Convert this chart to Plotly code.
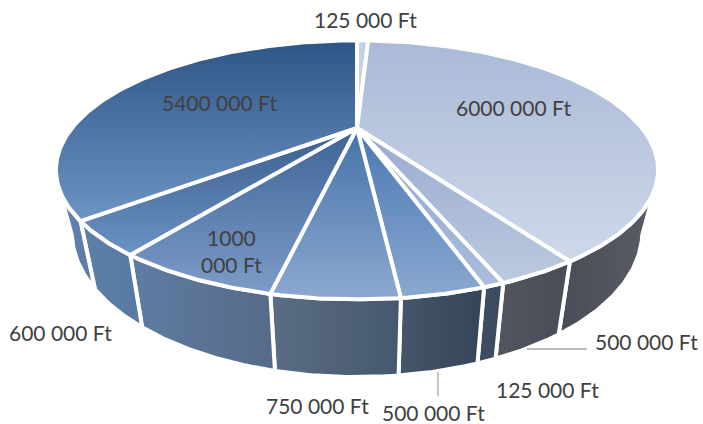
import math
import plotly.graph_objects as go

# ---- data ----
labels = ["125 000 Ft", "6000 000 Ft", "500 000 Ft", "125 000 Ft", "500 000 Ft",
          "750 000 Ft", "1000<br>000 Ft", "600 000 Ft", "5400 000 Ft"]
values = [125000, 6000000, 500000, 125000, 500000, 750000, 1000000, 600000, 5400000]

# ---- styles ----
top_colors = [("#c3cfe3", "#ced8e9"), ("#a9b9d7", "#ced8e9"), ("#98aad0", "#bccadf"),
              ("#90a8d0", "#a9bcdb"), ("#4a78b3", "#8aa8d0"), ("#4473a8", "#8da8d0"),
              ("#3d6496", "#7d9cc8"), ("#3a5d8c", "#6b93c3"), ("#2f5585", "#6d95c4")]
side_colors = [None, ("#494c56", "#5a5c65"), ("#53565f", "#474c56"), ("#3f4e62", "#3a495c"),
               ("#47566a", "#344559"), ("#5b6c85", "#46586f"), ("#5f7ca3", "#566a87"),
               ("#5d80ab", "#567aa3"), ("#5e82ae", "#5a7ba6")]
label_pos = [(365, 19), (513, 107), (646, 341), (547, 389), (433, 412), (317, 405),
             (231, 251), (60, 332), (219, 102)]

# perspective geometry of the two pie faces (pixels of the 703x424 page)
CX, P = 357.0, 0.323
TOP = dict(cy=128.0, k=285.0, m=116.0)
BOT = dict(cy=185.0, k=270.0, m=130.0)
SIL_R, SIL_L = 117.0, 243.0   # silhouette angles of the top face
SIL_R_B, SIL_L_B = 110.0, 250.0   # matching angles of the bottom face


def project(deg, face):
    a = math.radians(deg)
    u, v = math.sin(a), -math.cos(a)
    w = 1 - P * v
    return CX + face["k"] * u / w, face["cy"] + face["m"] * v / w


def arc(a0, a1, face):
    n = max(2, int(abs(a1 - a0) * 2) + 1)
    return [project(a0 + (a1 - a0) * i / (n - 1), face) for i in range(n)]


total = sum(values)
edges = [0.0]
for val in values:
    edges.append(edges[-1] + 360.0 * val / total)

fig = go.Figure()
WHITE = dict(color="#ffffff", width=4)

# side walls first
for i, val in enumerate(values):
    a0, a1 = edges[i], edges[i + 1]
    if side_colors[i] is None:
        continue
    if i == 1:
        a0t, a0b = SIL_R, SIL_R_B
        a1t, a1b = a1, a1
    elif i == len(values) - 1:
        a0t, a0b = a0, a0
        a1t, a1b = SIL_L, SIL_L_B
    else:
        a0t, a0b, a1t, a1b = a0, a0, a1, a1
    pts = arc(a0t, a1t, TOP) + arc(a1b, a0b, BOT)
    pts.append(pts[0])
    fig.add_trace(go.Scatter(
        x=[p[0] for p in pts], y=[p[1] for p in pts], mode="lines",
        fill="toself", line=WHITE, hoverinfo="skip",
        fillgradient=dict(type="horizontal",
                          colorscale=[[0, side_colors[i][0]], [1, side_colors[i][1]]]),
    ))

# top faces (the y axis runs downwards, so the gradient stops are bottom first)
for i, val in enumerate(values):
    a0, a1 = edges[i], edges[i + 1]
    pts = [(CX, TOP["cy"])] + arc(a0, a1, TOP) + [(CX, TOP["cy"])]
    fig.add_trace(go.Scatter(
        x=[p[0] for p in pts], y=[p[1] for p in pts], mode="lines",
        fill="toself", line=WHITE, hoverinfo="skip",
        fillgradient=dict(type="vertical",
                          colorscale=[[0, top_colors[i][1]], [1, top_colors[i][0]]]),
    ))

annotations = [
    dict(x=p[0], y=p[1], text=t, showarrow=False, xref="x", yref="y",
         font=dict(family="Lato", size=21, color="#404040"), align="center")
    for t, p in zip(labels, label_pos)
]
leader = dict(type="line", xref="x", yref="y", line=dict(color="#a6a6a6", width=1.3))
shapes = [dict(leader, x0=527, y0=349, x1=587, y1=349),
          dict(leader, x0=438, y0=372, x1=438, y1=396)]

fig.update_layout(
    width=703, height=424, margin=dict(l=0, r=0, t=0, b=0),
    paper_bgcolor="#ffffff", plot_bgcolor="#ffffff", showlegend=False,
    xaxis=dict(range=[0, 703], visible=False, fixedrange=True),
    yaxis=dict(range=[424, 0], visible=False, fixedrange=True),
    annotations=annotations, shapes=shapes,
)
fig.write_html("out.html", config={"displayModeBar": False},
               post_script="document.body.style.margin='0';document.documentElement.style.overflow='hidden';")
